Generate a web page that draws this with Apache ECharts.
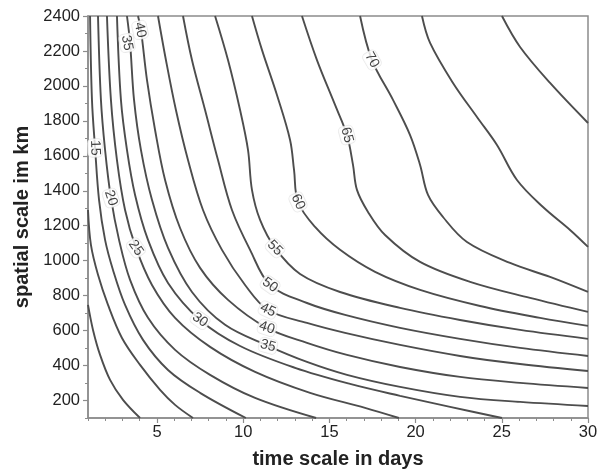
<!DOCTYPE html>
<html><head><meta charset="utf-8">
<script src="https://cdn.jsdelivr.net/npm/echarts@6/dist/echarts.min.js"></script>
<style>html,body{margin:0;padding:0;background:#fff}#c{width:600px;height:469px}</style>
</head><body><div id="c"></div>
<script>
// tick labels
const xTicks = [5, 10, 15, 20, 25, 30];
const yTicks = [200, 400, 600, 800, 1000, 1200, 1400, 1600, 1800, 2000, 2200, 2400];
const xMinor = [1,2,3,4,5,6,7,8,9,10,11,12,13,14,15,16,17,18,19,20,21,22,23,24,25,26,27,28,29,30];
const yMinor = [100,300,500,700,900,1100,1300,1500,1700,1900,2100,2300];

// contour lines: [time scale (days), spatial scale (km)]
const c5  = [[1.0,747],[1.29,604],[1.70,461],[2.28,318],[3.03,204],[4.02,100]];
const c10 = [[1.0,1290],[1.17,1090],[1.58,919],[2.16,747],[2.97,558],[4.02,404],[5.18,261],[6.05,175],[7.09,100]];
const c15 = [[1.12,2400],[1.23,1920],[1.41,1645],[1.64,1348],[1.99,1119],[2.45,947],[3.15,747],[4.19,547],[5.64,375],[7.50,244],[10.16,100]];
const c20 = [[1.58,2400],[1.75,1920],[1.99,1634],[2.33,1359],[2.80,1119],[3.44,890],[4.48,673],[6.05,490],[8.08,347],[10.69,215],[14.23,100]];
const c25 = [[2.10,2400],[2.33,1920],[2.68,1576],[3.15,1290],[3.78,1073],[4.71,861],[6.05,673],[8.08,507],[10.69,364],[13.88,244],[17.07,158],[19.03,100]];
const c30 = [[2.68,2400],[2.91,1920],[3.26,1634],[3.73,1376],[4.48,1119],[5.64,873],[7.50,661],[9.82,512],[13.01,387],[16.20,295],[19.10,227],[22.0,164],[25.01,100]];
const c35 = [[3.26,2400],[3.44,2246],[3.67,1920],[4.07,1634],[4.71,1348],[5.64,1073],[7.03,821],[8.95,633],[11.44,513],[13.70,421],[16.02,347],[19.10,278],[22.58,221],[26.06,192],[30.0,169]];
const c40 = [[3.90,2400],[4.07,2320],[4.42,2034],[4.89,1748],[5.47,1462],[6.34,1187],[7.50,959],[9.12,776],[11.38,616],[13.70,530],[16.02,461],[19.10,392],[22.58,335],[26.06,301],[30.0,272]];
const c45 = [[5.06,2400],[5.52,2148],[6.10,1862],[6.80,1576],[7.67,1290],[8.77,1062],[10.11,861],[11.44,718],[13.70,644],[15.91,587],[19.10,518],[22.58,455],[26.06,409],[30.0,369]];
const c50 = [[6.51,2400],[7.03,2148],[7.79,1862],[8.54,1576],[9.35,1290],[10.40,1062],[11.56,861],[13.70,758],[15.91,690],[19.10,616],[22.58,553],[26.06,501],[30.0,455]];
const c55 = [[8.37,2400],[9.12,2148],[9.82,1862],[10.28,1634],[10.51,1405],[10.98,1233],[11.85,1073],[13.30,924],[15.62,821],[19.10,730],[22.58,661],[26.06,604],[30.0,553]];
const c60 = [[10.51,2400],[11.09,2206],[11.96,1948],[12.72,1691],[12.95,1519],[13.18,1336],[14.17,1193],[15.62,1062],[17.65,936],[20.26,833],[23.74,741],[27.22,673],[30.0,627]];
const c65 = [[13.41,2400],[14.28,2148],[15.33,1891],[16.02,1719],[16.37,1548],[16.60,1405],[17.24,1279],[18.23,1147],[20.26,993],[23.16,879],[26.64,787],[30.0,707]];
const c70 = [[16.78,2400],[17.47,2148],[18.69,1920],[19.68,1719],[20.26,1548],[20.72,1376],[21.59,1250],[22.98,1107],[25.48,987],[27.80,907],[30.0,821]];
const c75 = [[20.37,2400],[20.84,2246],[22.17,2017],[23.56,1822],[24.72,1662],[25.88,1462],[27.39,1307],[28.96,1176],[30.0,1079]];
const c80 = [[25.01,2400],[26.06,2223],[27.80,2017],[30.0,1788]];

const contours = [c5, c10, c15, c20, c25, c30, c35, c40, c45, c50, c55, c60, c65, c70, c75, c80];

// contour labels
const labelText = ['15', '20', '25', '30', '35', '40', '45', '50', '55', '60', '65', '70', '35', '40'];
const labelX    = [1.41, 2.33, 3.78, 7.50, 11.44, 11.38, 11.44, 11.56, 11.85, 13.18, 16.02, 17.47, 3.26, 4.02];
const labelY    = [1645, 1359, 1073, 661, 513, 616, 718, 861, 1073, 1336, 1719, 2148, 2246, 2320];
const labelRotation = [-88, -72, -55, -35, -15, -18, -25, -35, -45, -65, -75, -60, -80, -78];

const lineColor = '#4d4d4d';
const series = contours.map(pts => ({
  type: 'line', data: pts, smooth: 0.35, showSymbol: false, symbol: 'none',
  lineStyle: { color: lineColor, width: 1.9 }, silent: true, z: 2, clip: true
}));
series.push({
  type: 'scatter', symbolSize: 0, z: 5, silent: true,
  data: labelText.map((t, i) => ({
    value: [labelX[i], labelY[i]], name: t,
    label: { rotate: labelRotation[i] }
  })),
  label: {
    show: true, position: 'inside', formatter: p => p.name,
    fontFamily: 'Liberation Sans, Arial, sans-serif', fontSize: 14, color: '#111',
    backgroundColor: '#fff', padding: [0, 1], borderRadius: 4,
    borderColor: '#e4e4e4', borderWidth: 0.8
  }
});

const axisFont = { fontFamily: 'Liberation Sans, Arial, sans-serif', fontSize: 16.5, color: '#222' };
const nameFont = { fontFamily: 'Liberation Sans, Arial, sans-serif', fontSize: 20, fontWeight: 'bold', color: '#222' };
const axisGray = '#8c8c8c';

const option = {
  animation: false,
  backgroundColor: '#fff',
  grid: { left: 88, right: 12, top: 16, bottom: 51, containLabel: false, outerBoundsMode: 'none',
          show: true, borderColor: axisGray, borderWidth: 1.5 },
  xAxis: [{
    type: 'value', min: 1, max: 30, position: 'bottom',
    name: 'time scale in days', nameLocation: 'middle', nameGap: 31, nameTextStyle: nameFont,
    axisLine: { show: true, onZero: false, lineStyle: { color: axisGray, width: 1.5 } },
    axisTick: { show: true, customValues: xTicks, length: 5, lineStyle: { color: axisGray, width: 1.2 } },
    axisLabel: Object.assign({ customValues: xTicks, margin: 6, formatter: v => String(v) }, axisFont),
    splitLine: { show: false }
  }, {
    type: 'value', min: 1, max: 30, position: 'bottom', gridIndex: 0,
    axisLine: { show: false },
    axisTick: { show: true, customValues: xMinor, length: 3, lineStyle: { color: axisGray, width: 1 } },
    axisLabel: { show: false }, splitLine: { show: false }
  }],
  yAxis: [{
    type: 'value', min: 100, max: 2400, position: 'left',
    name: 'spatial scale im km', nameLocation: 'middle', nameGap: 54, nameTextStyle: nameFont,
    axisLine: { show: true, onZero: false, lineStyle: { color: axisGray, width: 1.5 } },
    axisTick: { show: true, customValues: yTicks, length: 5, lineStyle: { color: axisGray, width: 1.2 } },
    axisLabel: Object.assign({ customValues: yTicks, margin: 8, formatter: v => String(v) }, axisFont),
    splitLine: { show: false }
  }, {
    type: 'value', min: 100, max: 2400, position: 'left',
    axisLine: { show: false },
    axisTick: { show: true, customValues: yMinor, length: 3, lineStyle: { color: axisGray, width: 1 } },
    axisLabel: { show: false }, splitLine: { show: false }
  }],
  series: series
};
const chart = echarts.init(document.getElementById('c'), null, { renderer: 'canvas' });
chart.setOption(option);
</script></body></html>
